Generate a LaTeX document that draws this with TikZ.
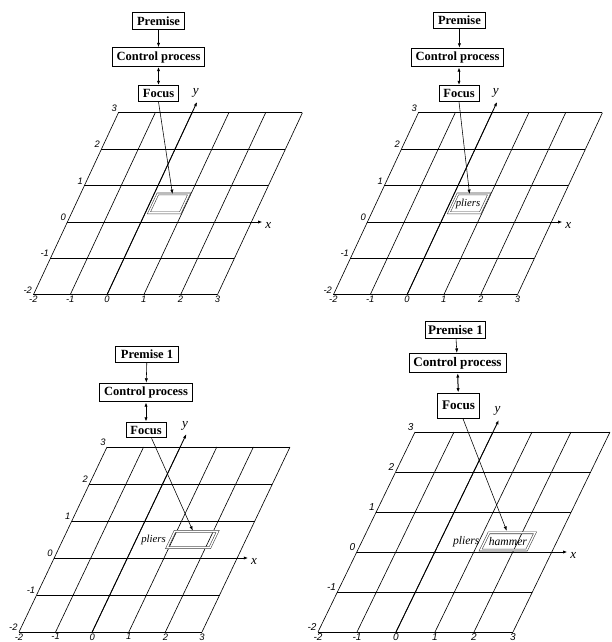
\documentclass[tikz,border=0pt]{standalone}
\usepackage{fontspec}
\setmainfont{Liberation Serif}
\setsansfont{Liberation Sans}
\usetikzlibrary{arrows.meta}

\begin{document}
\begin{tikzpicture}[>={Latex[length=3.5pt,width=2.6pt]},x=0.8pt,y=-0.8pt,
  stage/.style={draw,line width=0.7pt,font=\bfseries,inner xsep=3.5pt,inner ysep=3pt},
  gridline/.style={line width=0.5pt},
  axisline/.style={->,line width=0.7pt},
  ticklab/.style={font=\sffamily\itshape\fontsize{7.5}{8}\selectfont,inner sep=1pt},
  axlabel/.style={font=\itshape\fontsize{10.5}{12}\selectfont,inner sep=1pt},
  thing/.style={font=\itshape\fontsize{8.6}{10}\selectfont,inner sep=1pt},
  slot/.style={draw=black!75,double,double distance=1.1pt,line width=0.45pt},
  feed/.style={->,line width=0.45pt},
  link/.style={<->,line width=0.8pt}]
  \useasboundingbox (0,0) rectangle (611,642);

  % Panel 1: empty focus
  \begin{scope}[shift={(141,222)},x={(29.44pt,0pt)},y={(13.6pt,29.12pt)}]
    \foreach \k in {-2,...,3}{
      \draw[gridline] (-2,\k) -- (3,\k);
      \draw[gridline] (\k,-2) -- (\k,3);
      \node[ticklab,anchor=south east] at (-2,\k) {\k};
      \node[ticklab,anchor=north] at (\k,-2) {\k};
    }
    \draw[axisline] (0,-2) -- (0,3.3) node[axlabel,above=2pt,xshift=-1pt]{y};
    \draw[axisline] (-1.3,0) -- (3.3,0) node[axlabel,right=1pt,yshift=-3pt]{x};
    \draw[slot] (0.1,0.25) -- (0.95,0.25) -- (0.95,0.77) -- (0.1,0.77) -- cycle;
    \coordinate (t1) at (0.5,0.77);
  \end{scope}
  \node[stage] (p1) at (158.5,21) {Premise};
  \node[stage] (c1) at (158.5,57) {Control process};
  \node[stage] (f1) at (158.5,93.5) {Focus};
  \draw[feed] (p1) -- (c1);
  \draw[link] (c1) -- (f1);
  \draw[feed] (f1.south) -- (t1);

  % Panel 2: pliers in focus
  \begin{scope}[shift={(441,222)},x={(29.44pt,0pt)},y={(13.6pt,29.12pt)}]
    \foreach \k in {-2,...,3}{
      \draw[gridline] (-2,\k) -- (3,\k);
      \draw[gridline] (\k,-2) -- (\k,3);
      \node[ticklab,anchor=south east] at (-2,\k) {\k};
      \node[ticklab,anchor=north] at (\k,-2) {\k};
    }
    \draw[axisline] (0,-2) -- (0,3.3) node[axlabel,above=2pt,xshift=-1pt]{y};
    \draw[axisline] (-1.3,0) -- (3.3,0) node[axlabel,right=1pt,yshift=-3pt]{x};
    \draw[slot] (0.1,0.25) -- (0.95,0.25) -- (0.95,0.77) -- (0.1,0.77) -- cycle;
    \node[thing] (o2) at (0.5,0.51) {pliers};
    \coordinate (t2) at (0.42,0.77);
  \end{scope}
  \node[stage] (p2) at (459.4,20.5) {Premise};
  \node[stage] (c2) at (457.5,57.5) {Control process};
  \node[stage] (f2) at (459,93.5) {Focus};
  \draw[feed] (p2.south) -- (p2.south |- c2.north);
  \draw[link] (f2.north |- c2.south) -- (f2.north);
  \draw[feed] (f2.south) -- (t2);

  % Panel 3: focus moved on
  \begin{scope}[shift={(127.4,558)},x={(29.28pt,0pt)},y={(14.08pt,29.6pt)}]
    \foreach \k in {-2,...,3}{
      \draw[gridline] (-2,\k) -- (3,\k);
      \draw[gridline] (\k,-2) -- (\k,3);
      \node[ticklab,anchor=south east] at (-2,\k) {\k};
      \node[ticklab,anchor=north] at (\k,-2) {\k};
    }
    \draw[axisline] (0,-2) -- (0,3.35) node[axlabel,above=2pt,xshift=-1pt]{y};
    \draw[axisline] (-1.3,0) -- (3.3,0) node[axlabel,right=1pt,yshift=-3pt]{x};
    \draw[slot] (0.95,0.28) -- (2.12,0.28) -- (2.12,0.72) -- (0.95,0.72) -- cycle;
    \node[thing,anchor=east] (o3) at (0.85,0.5) {pliers};
    \coordinate (t3) at (1.43,0.74);
  \end{scope}
  \node[stage,inner xsep=4.5pt] (p3) at (147,354.5) {Premise 1};
  \node[stage] (c3) at (146,392.5) {Control process};
  \node[stage] (f3) at (146,430) {Focus};
  \draw[feed] (p3) -- (c3);
  \draw[link] (c3) -- (f3);
  \draw[feed] ([xshift=4.5pt]f3.south) -- (t3);

  % Panel 4: hammer in focus
  \begin{scope}[shift={(434.8,552)},x={(31.2pt,0pt)},y={(15.52pt,32pt)}]
    \foreach \k in {-2,...,3}{
      \draw[gridline] (-2,\k) -- (3,\k);
      \draw[gridline] (\k,-2) -- (\k,3);
      \node[ticklab,font=\sffamily\itshape\fontsize{8}{9}\selectfont,anchor=south east] at (-2,\k) {\k};
      \node[ticklab,font=\sffamily\itshape\fontsize{8}{9}\selectfont,anchor=north] at (\k,-2) {\k};
    }
    \draw[axisline] (0,-2) -- (0,3.3) node[axlabel,above=2pt,xshift=-1pt]{y};
    \draw[axisline] (-1.3,0) -- (3.4,0) node[axlabel,right=1pt,yshift=-3pt]{x};
    \draw[slot] (1.15,0.05) -- (2.33,0.05) -- (2.33,0.48) -- (1.15,0.48) -- cycle;
    \node[thing,font=\itshape\fontsize{9.3}{11}\selectfont] (o4) at (1.74,0.27) {hammer};
    \node[thing,font=\itshape\fontsize{9.3}{11}\selectfont,anchor=east] (q4) at (1.05,0.27) {pliers};
    \coordinate (t4) at (1.58,0.53);
  \end{scope}
  \node[stage,font=\bfseries\fontsize{10.5}{12}\selectfont,inner xsep=2pt] (p4) at (455.5,330) {Premise 1};
  \node[stage,font=\bfseries\fontsize{10.5}{12}\selectfont] (c4) at (457.5,363) {Control process};
  \node[stage,font=\bfseries\fontsize{10.5}{12}\selectfont,minimum height=20pt] (f4) at (458.5,405.5) {Focus};
  \draw[feed] (p4) -- (c4);
  \draw[link] (c4) -- (f4);
  \draw[feed] ([xshift=3.5pt]f4.south) -- (t4);
\end{tikzpicture}
\end{document}
